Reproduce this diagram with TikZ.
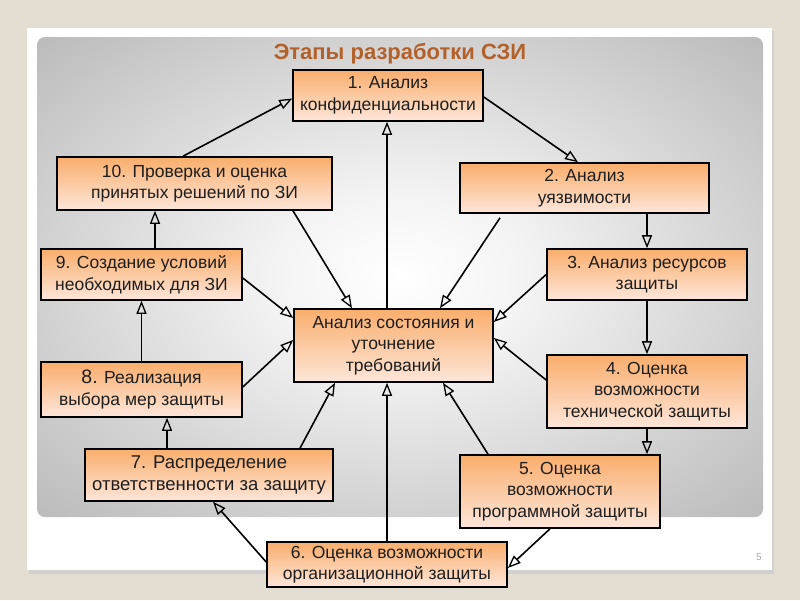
\documentclass[tikz,border=0pt]{standalone}
\usepackage{fontspec}
\setmainfont{Liberation Sans}
\usetikzlibrary{arrows.meta,calc}
\definecolor{bgbeige}{HTML}{E4DDD2}
\definecolor{titlecol}{HTML}{B3612A}
\definecolor{boxtop}{HTML}{F9AE6C}
\definecolor{boxbot}{HTML}{FDE6DA}
\definecolor{txtcol}{HTML}{1E1E1E}
\pgfdeclareradialshading{panelshade}{\pgfpoint{0bp}{0bp}}{color(0bp)=(white); color(8bp)=(white!96!black); color(32bp)=(black!24); color(50bp)=(black!38); color(70bp)=(black!42)}
\tikzset{
  stage/.style={draw=black, line width=1.6pt, top color=boxtop, bottom color=boxbot,
    align=center, font=\fontsize{17.5}{21.5}\selectfont, text=txtcol, inner sep=1pt},
  conn/.style={line width=1.6pt, -{Triangle[open,length=13pt,width=10pt,line width=1.3pt]}},
}
\begin{document}
\begin{tikzpicture}[x=1pt,y=-1pt]
\useasboundingbox (0,0) rectangle (800,600);
\fill[bgbeige] (0,0) rectangle (800,600);
% card shadow and card
\fill[black!18] (29,31) rectangle (774,574);
\fill[white] (27,28) rectangle (772,570);
% gray panel
\shade[shading=panelshade, rounded corners=8pt] (37,37) rectangle (763,517);
\node[font=\bfseries\fontsize{22}{24}\selectfont, text=titlecol] (title) at (400,54) {Этапы разработки СЗИ};
\node[font=\fontsize{10}{12}\selectfont, text=black!35] (pnum) at (759,557) {5};

\node[stage, minimum width=190, minimum height=51] (n1) at (388,95.5) {1. Анализ\\конфиденциальности};
\node[stage, minimum width=249, minimum height=50] (n2) at (584.5,188) {2. Анализ\\уязвимости};
\node[stage, minimum width=200, minimum height=51] (n3) at (647,274.5) {3. Анализ ресурсов\\защиты};
\node[stage, minimum width=200, minimum height=73] (n4) at (647,391.5) {4. Оценка\\возможности\\технической защиты};
\node[stage, minimum width=200, minimum height=73] (n5) at (560,491.5) {5. Оценка\\возможности\\программной защиты};
\node[stage, minimum width=240, minimum height=45] (n6) at (387,564.5) {6. Оценка возможности\\организационной защиты};
\node[stage, minimum width=248, minimum height=52, font=\fontsize{18.5}{22}\selectfont] (n7) at (209,475) {7. Распределение\\ответственности за защиту};
\node[stage, minimum width=201, minimum height=55] (n8) at (141.5,389.5) {{\fontsize{19.5}{21.5}\selectfont 8.} Реализация\\выбора мер защиты};
\node[stage, minimum width=201, minimum height=51] (n9) at (141.5,274.5) {9. Создание условий\\необходимых для ЗИ};
\node[stage, minimum width=275, minimum height=53] (n10) at (194.5,183.5) {10. Проверка и оценка\\принятых решений по ЗИ};
\node[stage, minimum width=199, minimum height=73] (nc) at (393.5,345.5) {Анализ состояния и\\уточнение\\требований};

% ring of stages
\draw[conn] ([xshift=-11.5pt]n10.north) -- ([yshift=-3pt]n1.west);
\draw[conn] ([yshift=-1.5pt]n1.east) -- ([xshift=-6.5pt]n2.north);
\draw[conn] (n2.south -| n3.north) -- (n3.north);
\draw[conn] (n3.south) -- (n4.north);
\draw[conn] (n4.south) -- (n4.south |- n5.north);
\draw[conn] ([xshift=-10pt]n5.south) -- ([yshift=-3.5pt]n6.east);
\draw[conn] ([yshift=2.5pt]n6.west) -- ([xshift=4pt]n7.south);
\draw[conn] ([xshift=-42pt]n7.north) -- ([xshift=-42pt]n7.north |- n8.south);
\draw[conn] (n8.north) -- (n9.south);
\draw[conn] ([xshift=13.5pt]n9.north) -- ([xshift=13.5pt]n9.north |- n10.south);

% centre links
\draw[conn] ([xshift=-6.5pt]nc.north) -- ([xshift=-6.5pt]nc.north |- n1.south);
\draw[conn] (n6.north) -- (n6.north |- nc.south);
\draw[conn] ([xshift=98.5pt]n10.south) -- ([xshift=-41.5pt]nc.north);
\draw[conn] ([xshift=-84.5pt,yshift=-4pt]n2.south) -- ([xshift=46.5pt]nc.north);
\draw[conn] (n3.west) -- ([yshift=23.5pt]nc.east);
\draw[conn] ([yshift=11.5pt]n4.west) -- ([yshift=7.5pt]nc.east);
\draw[conn] ([xshift=-72pt]n5.north) -- ([xshift=49.5pt]nc.south);
\draw[conn] ([xshift=91pt]n7.north) -- ([xshift=-58.5pt]nc.south);
\draw[conn] ([yshift=2.5pt]n8.east) -- ([yshift=5.5pt]nc.west);
\draw[conn] ([yshift=-3.5pt]n9.east) -- ([yshift=27.5pt]nc.west);
\end{tikzpicture}
\end{document}
